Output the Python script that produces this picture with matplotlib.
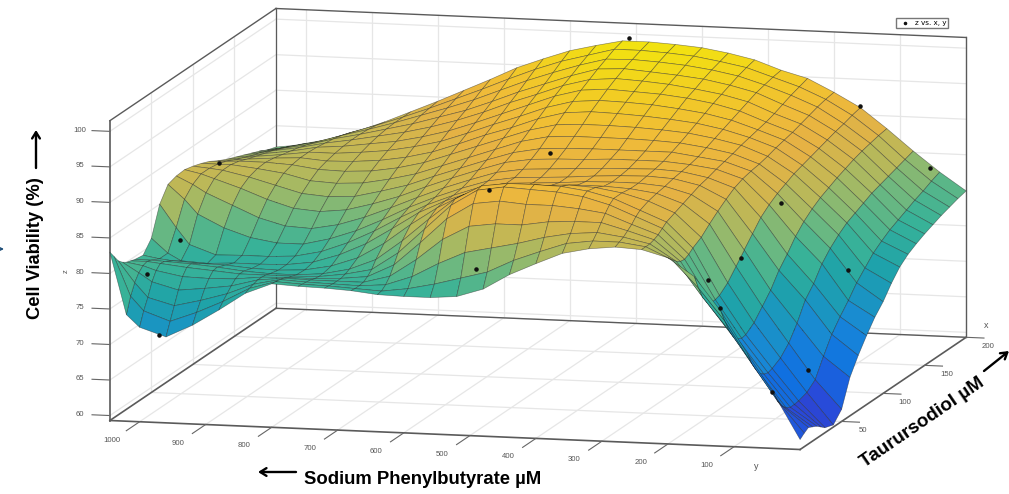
import matplotlib
matplotlib.use('agg')
import matplotlib.pyplot as plt
import numpy as np
from matplotlib.colors import LinearSegmentedColormap
from mpl_toolkits.mplot3d import proj3d

# x = Taurursodiol, y = Sodium Phenylbutyrate, z = viability
x_vals = [0, 5, 10, 15, 20, 25, 30, 40, 50, 60, 70, 80, 90, 100, 110, 120, 130, 140, 150, 160, 170, 180, 190, 200]
y_vals = [0, 40, 80, 120, 160, 200, 240, 280, 320, 360, 400, 440, 480, 520, 560, 600, 640, 680, 720, 760, 800, 840, 880, 920, 960, 1000, 1020, 1045]

# one list per y value, read front (x=0) to back (x=200)
z_by_y = [
  [60.7,61.2,61.6,61.3,61,60.5,60,59.6,61,64.7,67,69,70.8,72.2,74,75.5,76.5,77.2,77.8,78.3,78.8,79.2,79.6,79.9],
  [67,65.5,64.5,63.8,63.5,63.5,63.6,64,65,67.5,69.8,71.5,73,74.7,76,77.3,78.2,79,79.6,80.2,80.8,81.3,81.9,82.4],
  [72.5,70.8,69.5,68.5,68,67.8,68,68.7,70,72,74.5,76,78,79.4,80.5,81.4,82,82.6,83.2,83.6,84,84.4,84.8,85.2],
  [78.3,76.5,74.8,73.5,72.8,72.5,72.6,73.5,75,76.5,78.5,80,81.7,83,84,84.8,85.4,86,86.5,87,87.4,87.7,88,88.2],
  [83,81,79.3,78.2,77.8,77.8,78,79,80.5,82,83.5,85,86,86.8,87.4,88,88.4,88.8,89.2,89.6,90,90.3,90.7,91],
  [85.5,84.8,84.2,83.8,83.7,84,84.5,85.2,86.3,87.3,88.2,89,89.5,89.8,90,90.3,90.7,91,91.3,91.7,92.1,92.5,92.8,93],
  [86.5,86.5,86.5,86.7,87,87.5,88,88.5,89,89.5,90,90.3,90.7,91,91.3,91.7,92,92.3,92.6,93,93.5,94,94.4,94.8],
  [86.7,87,87.3,87.8,88.3,89,89.5,90,90.3,90.5,90.8,91,91.2,91.5,92,92.5,93,93.5,94,94.5,95,95.3,95.6,95.8],
  [86.3,87,87.8,88.8,89.7,90.5,91,91,90.8,90.8,91,91.2,91.5,92,92.5,93.1,93.7,94.3,94.9,95.4,95.9,96.4,96.8,97.1],
  [85.5,86.5,87.5,88.8,90.2,91.5,91.9,91.6,91,90.8,90.9,91.1,91.5,92,92.7,93.4,94.1,94.8,95.5,96,96.6,97.1,97.5,97.9],
  [83.9,85.2,86.8,88.6,90.5,92,92.4,91.8,91,90.7,90.7,91,91.5,92,92.8,93.6,94.4,95.2,95.9,96.5,97,97.6,98.1,98.5],
  [82.2,83.8,85.8,88,90.5,92.2,92.5,91.6,90.8,90.4,90.4,90.8,91.3,92,92.8,93.7,94.6,95.4,96.1,96.8,97.3,97.9,98.4,98.8],
  [80,82,85,88,90.8,92.4,92.5,91.4,90.5,90.2,90.2,90.6,91.2,91.9,92.8,93.7,94.7,95.5,96.3,97,97.6,98.1,98.6,99],
  [78.8,81,84.2,87.5,90.3,91.8,92,91,90.2,90,90,90.4,91,91.7,92.6,93.5,94.4,95.2,96,96.7,97.4,98,98.6,99],
  [78.5,80,82.5,85.5,88,89.5,90,89.8,89.4,89.3,89.4,89.8,90.4,91,91.8,92.6,93.4,94.2,95,95.7,96.3,97,97.6,98.2],
  [78.5,79.2,80.5,82.5,84.5,86,87,87.8,88,88,88.2,88.6,89.2,89.8,90.5,91.3,92,92.8,93.6,94.3,95,95.8,96.6,97.3],
  [78.6,78.7,79.2,80,81.2,82.5,83.8,85.3,86.2,86.5,86.8,87.3,87.9,88.5,89.2,90,90.8,91.5,92.2,93,93.7,94.5,95.3,96],
  [79,78.9,78.9,79,79.4,80,81,82.5,83.8,84.6,85.2,85.8,86.5,87.2,87.9,88.7,89.4,90.1,90.8,91.5,92.2,93,93.8,94.6],
  [79.2,79.1,79,79,79,79.2,79.5,80.3,81.5,82.5,83.3,84.2,85,85.8,86.6,87.4,88.1,88.8,89.5,90.2,90.8,91.5,92.2,92.8],
  [79.3,79.2,79.1,79,78.8,78.7,78.7,79,79.8,80.7,81.6,82.7,83.8,84.8,85.7,86.5,87.2,87.9,88.5,89.1,89.7,90.2,90.7,91.1],
  [79.5,79.4,79.3,79.1,78.8,78.6,78.4,78.3,78.6,79.3,80.3,81.5,82.8,83.9,85,85.9,86.6,87.2,87.7,88.2,88.6,89,89.2,89.4],
  [78,78.3,78.5,78.7,78.7,78.6,78.4,78.1,78.1,78.5,79.4,80.8,82.4,83.7,84.8,85.7,86.3,86.8,87.2,87.5,87.7,87.8,87.8,87.8],
  [75.5,76.3,77,77.7,78.3,78.6,78.6,78.2,78,78.3,79.4,81,82.7,84,85,85.8,86.2,86.5,86.7,86.8,86.8,86.7,86.5,86.2],
  [73.2,74.6,75.9,77.2,78.2,78.9,79,78.5,78,78.3,80,82,83.8,85,85.9,86.3,86.5,86.5,86.4,86.2,86,85.7,85.3,84.8],
  [71.4,73.2,75,76.8,78.3,79.2,79.3,78.6,77.8,78.2,81.2,83.6,85.2,86,86.4,86.5,86.3,86,85.7,85.4,85,84.6,84,83.5],
  [72.6,74.5,76,77.8,79,79.6,79.5,78.8,78,79.5,83,85.2,86.4,86.8,86.8,86.5,86,85.6,85.2,84.8,84.3,83.8,83.2,82.7],
  [74.3,76.5,78,79,79.6,79.8,79.6,79,79,81.8,85,86.3,87,87,86.8,86.4,85.8,85.3,84.8,84.4,83.9,83.4,82.8,82.3],
  [83,82,81,80.4,80,79.8,79.6,79.4,81,85,87,87.4,87.5,87.2,86.8,86.3,85.6,85,84.5,84,83.5,83,82.4,82],
]

# measured points
pts_x = [200, 200, 200, 94, 70, 0, 0, 0, 54, 105, 96, 23, 7, 132, 37, 13, 0]
pts_y = [510, 160, 55, 147, 177, 139, 122, 42, 56, 60, 500, 500, 500, 1045, 985, 1005, 970]
pts_z = [99.5, 91.2, 82.9, 86, 80, 82.6, 78.7, 67.3, 66, 76, 91.5, 92.1, 82.2, 85.1, 82, 79, 71.6]

x_ticks = [50, 100, 150, 200]
y_ticks = [100, 200, 300, 400, 500, 600, 700, 800, 900, 1000]
z_ticks = [60, 65, 70, 75, 80, 85, 90, 95, 100]

x_min, x_max = 0, 200
y_min, y_max = 0, 1045
z_min, z_max = 59.3, 101.5

cmap_z = [59.3, 62, 66, 70, 73, 76, 79, 82, 84.5, 87, 90, 93, 96, 98.5, 101.5]
cmap_col = ['#3b2aa8', '#2a48d8', '#1070e0', '#1886d8', '#1a96c0', '#1fa3a8', '#38b298', '#6cb880',
            '#a0b966', '#c8b752', '#e6b244', '#f0bc38', '#f2ce22', '#f2e012', '#f6ee0c']

W, H = 1009, 494
fig = plt.figure(figsize=(W / 100, H / 100), dpi=100)

# square 3d axes bigger than the figure, placed so the box lands where it should
side = 1004.0
cx, cy = 538.0, 229.0
frac = 0.095 / 0.185
ax = fig.add_axes([(cx - frac * side) / W, (H - cy - frac * side) / H, side / W, side / H],
                  projection='3d', computed_zorder=False)
ax.set_proj_type('ortho')
ax.view_init(elev=9.7, azim=-166)
ax.set_box_aspect((686, 711, 304))
ax.patch.set_alpha(0)
ax.set_xlim(x_min, x_max, view_margin=0)
ax.set_ylim(y_min, y_max, view_margin=0)
ax.set_zlim(z_min, z_max, view_margin=0)
ax.set_xticks([])
ax.set_yticks([])
ax.set_zticks([])
ax.grid(False)
for a in (ax.xaxis, ax.yaxis, ax.zaxis):
  a.pane.set_facecolor('white')
  a.pane.set_edgecolor((1, 1, 1, 0))
  a.line.set_color((1, 1, 1, 0))

# grid on the floor and the two back walls
grid_col = '#e6e6e6'
def gridline(xs, ys, zs):
  ax.plot(xs, ys, zs, color=grid_col, lw=0.9, zorder=0.5)

for t in x_ticks:
  gridline([t, t], [y_min, y_max], [z_min, z_min])
  gridline([t, t], [y_max, y_max], [z_min, z_max])
for t in y_ticks:
  gridline([x_min, x_max], [t, t], [z_min, z_min])
  gridline([x_max, x_max], [t, t], [z_min, z_max])
for t in z_ticks:
  gridline([x_min, x_max], [y_max, y_max], [t, t])
  gridline([x_max, x_max], [y_min, y_max], [t, t])

# box frame
frame_col = '#5a5a5a'
def edge(xs, ys, zs, col=frame_col, lw=1.0):
  ax.plot(xs, ys, zs, color=col, lw=lw, zorder=1)

edge([x_min, x_min], [y_min, y_max], [z_min, z_min], lw=1.2)
edge([x_min, x_max], [y_min, y_min], [z_min, z_min], lw=1.2)
edge([x_min, x_max], [y_max, y_max], [z_min, z_min], lw=1.2)
edge([x_max, x_max], [y_min, y_max], [z_min, z_min], lw=1.0)
edge([x_min, x_min], [y_max, y_max], [z_min, z_max], lw=1.2)
edge([x_min, x_max], [y_max, y_max], [z_max, z_max], lw=1.0)
edge([x_max, x_max], [y_min, y_max], [z_max, z_max], lw=1.0)
edge([x_max, x_max], [y_min, y_min], [z_min, z_max], lw=1.0)
edge([x_max, x_max], [y_max, y_max], [z_min, z_max], lw=0.9)

# tick marks and labels, labels go through the projection by hand so they are plain 2d text
tick_col = '#666666'
lab_col = '#555555'
font = 'Liberation Sans'
def tick_label(x, y, z, s):
  px, py, _ = proj3d.proj_transform(x, y, z, ax.get_proj())
  ax.text2D(px, py, s, transform=ax.transData, fontsize=5.6, color=lab_col, ha='center', va='center', family=font)

for t in y_ticks:
  ax.plot([x_min, -16], [t, t], [z_min, z_min], color=tick_col, lw=0.8, zorder=1)
  tick_label(-33, t, z_min, str(t))
for t in x_ticks:
  ax.plot([t, t], [y_min, -27], [z_min, z_min], color=tick_col, lw=0.8, zorder=1)
  tick_label(t, -33, z_min - 1.2, str(t))
for t in z_ticks:
  ax.plot([x_min, x_min], [y_max, y_max + 27], [t, t], color=tick_col, lw=0.8, zorder=1)
  tick_label(x_min, y_max + 45, t, str(t))

# surface
xx, yy = np.meshgrid(x_vals, y_vals)
zz = np.array(z_by_y)
pos = [(v - cmap_z[0]) / (cmap_z[-1] - cmap_z[0]) for v in cmap_z]
cm = LinearSegmentedColormap.from_list('par', list(zip(pos, cmap_col)))
ax.plot_surface(xx, yy, zz, cmap=cm, vmin=cmap_z[0], vmax=cmap_z[-1], rstride=1, cstride=1,
                edgecolor=(0.1, 0.1, 0.1, 0.5), linewidth=0.45, antialiased=True, shade=False, zorder=2)

pts = ax.scatter(pts_x, pts_y, pts_z, s=5, c='#111111', depthshade=False, zorder=3)

fig.legend(handles=[pts], labels=['z vs. x, y'], loc='upper left', bbox_to_anchor=(896 / W, 1 - 18 / H),
           fontsize=5.2, fancybox=False, edgecolor='#777777', framealpha=1, borderpad=0.3,
           handletextpad=0.3, borderaxespad=0, markerscale=0.7)

# annotations sit on a flat overlay in pixel coords
ov = fig.add_axes([0, 0, 1, 1], zorder=10)
ov.set_xlim(0, W)
ov.set_ylim(H, 0)
ov.axis('off')
ov.patch.set_alpha(0)

ov.text(35, 248, 'Cell Viability (%)', rotation=90, fontsize=13.2, fontweight='bold', ha='center', va='center', family=font)
ov.text(423, 479, 'Sodium Phenylbutyrate µM', fontsize=13.3, fontweight='bold', ha='center', va='center', family=font)
ov.text(922, 423, 'Taurursodiol µM', rotation=34.5, rotation_mode='anchor', fontsize=13.6, fontweight='bold',
        ha='center', va='center', family=font)
ov.text(66, 271, 'z', rotation=90, fontsize=5.5, color=lab_col, ha='center', va='center', family=font)
ov.text(986, 325, 'x', fontsize=6.5, color=lab_col, ha='center', va='center', family=font)
ov.text(756, 466, 'y', fontsize=6.5, color=lab_col, ha='center', va='center', family=font)

arrow = dict(arrowstyle='->,head_width=0.28,head_length=0.45', color='black', lw=1.7, shrinkA=0, shrinkB=0)
ov.annotate('', xy=(36, 130), xytext=(36, 168), arrowprops=arrow)
ov.annotate('', xy=(258, 472), xytext=(296, 472), arrowprops=arrow)
ov.annotate('', xy=(1009, 351), xytext=(984, 371), arrowprops=arrow)
ov.annotate('', xy=(4, 249), xytext=(0, 249), arrowprops=dict(arrowstyle='->', color='#1f4e79', lw=1, shrinkA=0, shrinkB=0))

fig.savefig('out.png', dpi=100)
